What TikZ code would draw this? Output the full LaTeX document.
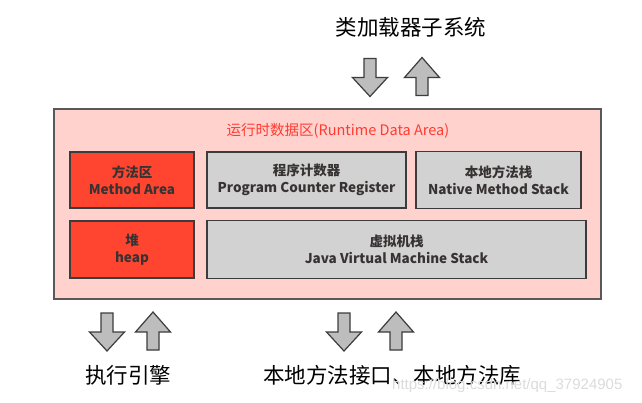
\documentclass[tikz,border=0pt]{standalone}
\usepackage{fontspec}
\setmainfont{Liberation Sans}
\newfontfamily\cjk{Noto Sans CJK SC}
\definecolor{pinkbg}{HTML}{FFD2CE}
\definecolor{redbox}{HTML}{FF4530}
\definecolor{graybox}{HTML}{D2D2D2}
\definecolor{edgec}{HTML}{3C3C3C}
\definecolor{titlered}{HTML}{FF3B30}
\definecolor{arrowfill}{HTML}{BDBDBD}
\definecolor{boxtext}{HTML}{383333}
\definecolor{wmark}{HTML}{DCDCDC}
\tikzset{
  arr/.style={fill=arrowfill, draw=edgec, line width=1.2pt, line join=miter},
  downarr/.pic={\draw[arr] (-6,-19) -- (6,-19) -- (6,0) -- (17.5,0) -- (0,19) -- (-17.5,0) -- (-6,0) -- cycle;},
  uparr/.pic={\draw[arr] (-6,19) -- (6,19) -- (6,1) -- (17.5,1) -- (0,-19) -- (-17.5,1) -- (-6,1) -- cycle;},
  outerbox/.style={draw=edgec!85, line width=1.5pt, fill=pinkbg, inner sep=0pt},
  membox/.style={draw=edgec, line width=1.5pt, inner sep=0pt, align=center,
    text=boxtext, font=\cjk\bfseries\fontsize{13.5}{17}\selectfont},
  redarea/.style={membox, fill=redbox},
  grayarea/.style={membox, fill=graybox},
  bigtext/.style={font=\cjk\fontsize{21.5}{24}\selectfont, text=black, inner sep=0pt},
}
\begin{document}
\begin{tikzpicture}[x=1pt, y=-1pt]
\useasboundingbox[fill=white] (0,0) rectangle (642,403);

% runtime data area
\node (rda) [outerbox, minimum width=547pt, minimum height=190pt] at (327.5,204) {};
\node (title) [text=titlered, font=\cjk\fontsize{14.5}{16}\selectfont, inner sep=0pt] at (338,131) {运行时数据区(Runtime Data Area)};

\node (method) [redarea, minimum width=124pt, minimum height=56pt] at (132,180) {方法区\\Method Area};
\node (pcr) [grayarea, minimum width=199pt, minimum height=56pt] at (306.5,180) {程序计数器\\Program Counter Register};
\node (nms) [grayarea, minimum width=165pt, minimum height=57pt] at (498.5,180) {本地方法栈\\Native Method Stack};
\node (heap) [redarea, minimum width=124pt, minimum height=57pt] at (132,249.5) {堆\\heap};
\node (jvm) [grayarea, minimum width=379pt, minimum height=58pt] at (396.5,249.5) {虚拟机栈\\Java Virtual Machine Stack};

% class loader subsystem
\node (cls) [bigtext] at (411,27) {类加载器子系统};
\pic at (370,77.5) {downarr};
\pic at (422,76.5) {uparr};

% execution engine
\pic at (107,332) {downarr};
\pic at (153,331) {uparr};
\node (exe) [bigtext] at (128,375) {执行引擎};

% native interface
\pic at (344,332) {downarr};
\pic at (396,331) {uparr};
\node (native) [bigtext] at (392,375) {本地方法接口、本地方法库};

% watermark
\node (wm) [anchor=west, text=wmark, font=\fontsize{15}{17}\selectfont, inner sep=0pt] at (392,386) {https://blog.csdn.net/qq\_37924905};
\end{tikzpicture}
\end{document}
